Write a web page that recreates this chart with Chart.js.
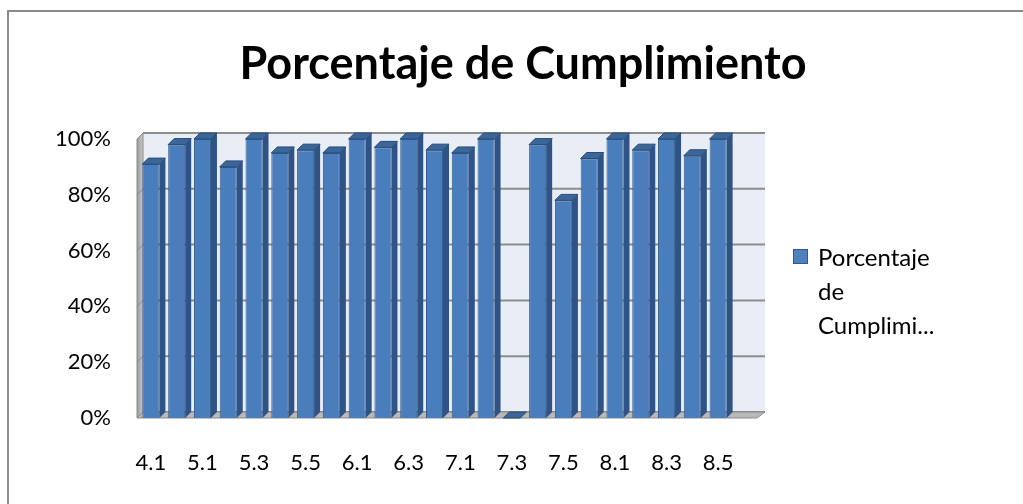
<!DOCTYPE html>
<html><head><meta charset="utf-8">
<script src="https://cdn.jsdelivr.net/npm/chart.js@4.4.1/dist/chart.umd.min.js"></script>
<style>html,body{margin:0;padding:0;background:#fff}#wrap{width:1023px;height:504px;position:relative}</style>
</head><body><div id="wrap"><canvas id="c" width="1023" height="504"></canvas></div>
<script>
const chartTitle = 'Porcentaje de Cumplimiento';
const seriesName = 'Porcentaje de Cumplimiento';
const categories = ['4.1','4.2','5.1','5.2','5.3','5.4','5.5','5.6','6.1','6.2','6.3','6.4','7.1','7.2','7.3','7.4','7.5','7.6','8.1','8.2','8.3','8.4','8.5'];
const values = [0.91,0.98,1.00,0.90,1.00,0.95,0.96,0.95,1.00,0.97,1.00,0.96,0.95,1.00,0.00,0.98,0.78,0.93,1.00,0.96,1.00,0.94,1.00];
const yTicks = [0,0.2,0.4,0.6,0.8,1.0];
const legendLines = ['Porcentaje','de','Cumplimi...'];

const FONT = 'Lato, "Open Sans", sans-serif';
const DX = 6, DY = -6, WALL_RIGHT = 765, FLOOR_RIGHT = 757;

const threeD = {
  id: 'threeD',
  beforeDraw(chart) {
    const c = chart.ctx;
    c.save();
    c.fillStyle = '#fff';
    c.fillRect(0, 0, chart.width, chart.height);
    c.strokeStyle = '#8a8a8a';
    c.lineWidth = 2;
    c.strokeRect(8, 11, 1200, 700);
    c.restore();
  },
  beforeDatasetsDraw(chart) {
    const c = chart.ctx;
    const {left, top, bottom} = chart.chartArea;
    const y = chart.scales.y;
    const L = left - 1;
    c.save();
    c.fillStyle = '#e9edf6';
    c.fillRect(L + DX, top + DY, WALL_RIGHT - (L + DX), bottom - top);
    const g = c.createLinearGradient(L, 0, L + DX, 0);
    g.addColorStop(0, '#9a9a9a'); g.addColorStop(1, '#c9c9c9');
    c.fillStyle = g;
    c.beginPath();
    c.moveTo(L, bottom); c.lineTo(L, top); c.lineTo(L + DX, top + DY); c.lineTo(L + DX, bottom + DY); c.closePath();
    c.fill();
    c.strokeStyle = '#8a8a8a'; c.lineWidth = 1; c.stroke();
    c.strokeStyle = '#8c8c8c';
    yTicks.forEach(v => {
      const yy = y.getPixelForValue(v);
      c.lineWidth = 2;
      c.beginPath();
      c.moveTo(L + DX, yy + DY); c.lineTo(WALL_RIGHT, yy + DY);
      c.stroke();
      c.lineWidth = 1;
      c.beginPath();
      c.moveTo(L, yy); c.lineTo(L + DX, yy + DY);
      c.stroke();
    });
    c.fillStyle = '#b9b9b9';
    c.beginPath();
    c.moveTo(L, bottom); c.lineTo(FLOOR_RIGHT, bottom); c.lineTo(WALL_RIGHT, bottom + DY); c.lineTo(L + DX, bottom + DY); c.closePath();
    c.fill();
    c.strokeStyle = '#8a8a8a'; c.lineWidth = 1; c.stroke();
    c.restore();
  },
  afterDatasetsDraw(chart) {
    const c = chart.ctx;
    const meta = chart.getDatasetMeta(0);
    c.save();
    meta.data.forEach(bar => {
      const {x, y, base, width} = bar.getProps(['x', 'y', 'base', 'width'], true);
      const l = x - width / 2, r = x + width / 2;
      c.fillStyle = '#2f5386';
      c.beginPath();
      c.moveTo(r, y); c.lineTo(r + DX, y + DY); c.lineTo(r + DX, base + DY); c.lineTo(r, base); c.closePath();
      c.fill();
      c.fillStyle = '#3b6699';
      c.beginPath();
      c.moveTo(l, y); c.lineTo(l + DX, y + DY); c.lineTo(r + DX, y + DY); c.lineTo(r, y); c.closePath();
      c.fill();
      c.strokeStyle = '#2a4a75'; c.lineWidth = 1; c.stroke();
    });
    c.restore();
  },
  afterDraw(chart) {
    const c = chart.ctx;
    c.save();
    c.fillStyle = '#000';
    c.font = 'bold 45px ' + FONT;
    c.textAlign = 'center'; c.textBaseline = 'middle';
    c.fillText(chartTitle, 523, 64);
    c.fillStyle = '#4f81bd';
    c.fillRect(793, 249, 15, 15);
    c.strokeStyle = '#2f5a8c'; c.lineWidth = 1;
    c.strokeRect(793.5, 249.5, 14, 14);
    c.fillStyle = '#000';
    c.font = '24px ' + FONT;
    c.textAlign = 'left';
    legendLines.forEach((t, i) => c.fillText(t, 818, 258 + i * 34));
    c.restore();
  }
};

new Chart(document.getElementById('c'), {
  type: 'bar',
  data: {
    labels: categories,
    datasets: [{
      label: seriesName,
      data: values,
      backgroundColor: '#4a7dbb',
      borderColor: '#33608f',
      borderWidth: 1,
      barPercentage: 0.66,
      categoryPercentage: 1
    }]
  },
  options: {
    responsive: false,
    animation: false,
    layout: {padding: {left: 21, right: 292, top: 139, bottom: 0}},
    plugins: {legend: {display: false}, title: {display: false}, tooltip: {enabled: false}},
    scales: {
      x: {
        grid: {display: false, drawTicks: false},
        border: {display: false},
        ticks: {autoSkip: false, maxRotation: 0, padding: 32, color: '#000',
          font: {family: FONT, size: 22},
          callback: (v, i) => (i % 2 === 0 ? categories[i] : '')},
        afterFit: s => { s.height = 86; }
      },
      y: {
        min: 0, max: 1,
        grid: {display: false, drawTicks: false},
        border: {display: false},
        ticks: {stepSize: 0.2, padding: 27, color: '#000',
          font: {family: FONT, size: 22},
          callback: v => Math.round(v * 100) + '%'},
        afterFit: s => { s.width = 117; }
      }
    }
  },
  plugins: [threeD]
});
</script>
</body></html>
